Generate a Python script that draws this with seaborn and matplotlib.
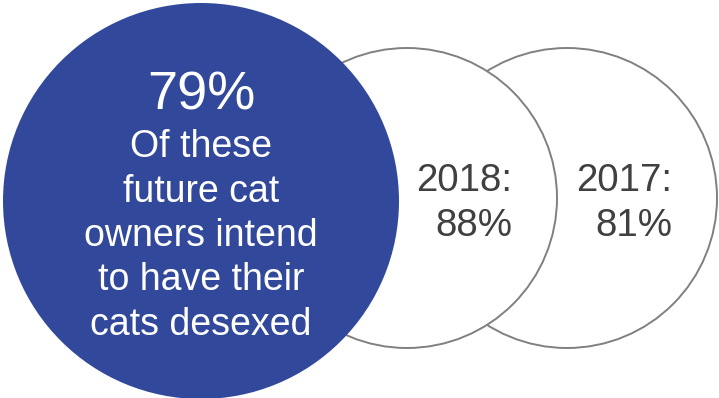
import matplotlib.pyplot as plt
import seaborn as sns
from matplotlib.patches import Circle

# data
main_value = 79
main_lines = ["Of these", "future cat", "owners intend", "to have their", "cats desexed"]
years = ["2018", "2017"]
year_values = [88, 81]

sns.set_theme(style="white")
plt.rcParams['font.family'] = ['Liberation Sans', 'DejaVu Sans']

blue = "#31489B"
grey_line = "#808080"
grey_text = "#404040"

fig = plt.figure(figsize=(7.19, 3.98), dpi=100)
ax = fig.add_axes([0, 0, 1, 1])
ax.set_xlim(0, 719)
ax.set_ylim(398, 0)
ax.set_aspect('equal')
ax.axis('off')

# outline circles (behind), last year furthest back
circle_x = [407, 567]
for i in reversed(range(len(years))):
    ax.add_patch(Circle((circle_x[i], 198), 150, facecolor="white",
                        edgecolor=grey_line, linewidth=1.4, zorder=1 + (len(years) - i)))
    ax.text(circle_x[i] + 105, 191, years[i] + ":", ha='right', va='baseline',
            fontsize=27.7, color=grey_text, zorder=5)
    ax.text(circle_x[i] + 105, 236, f"{year_values[i]}%", ha='right', va='baseline',
            fontsize=27.7, color=grey_text, zorder=5)

# main filled circle
ax.add_patch(Circle((201, 201), 198, facecolor=blue, edgecolor='none', zorder=10))
ax.text(201, 110, f"{main_value}%", ha='center', va='baseline',
        fontsize=39, color='white', zorder=11)
for k, line in enumerate(main_lines):
    ax.text(201, 157 + k * 44.5, line, ha='center', va='baseline',
            fontsize=27, color='white', zorder=11)

fig.savefig("out.png", dpi=100)
